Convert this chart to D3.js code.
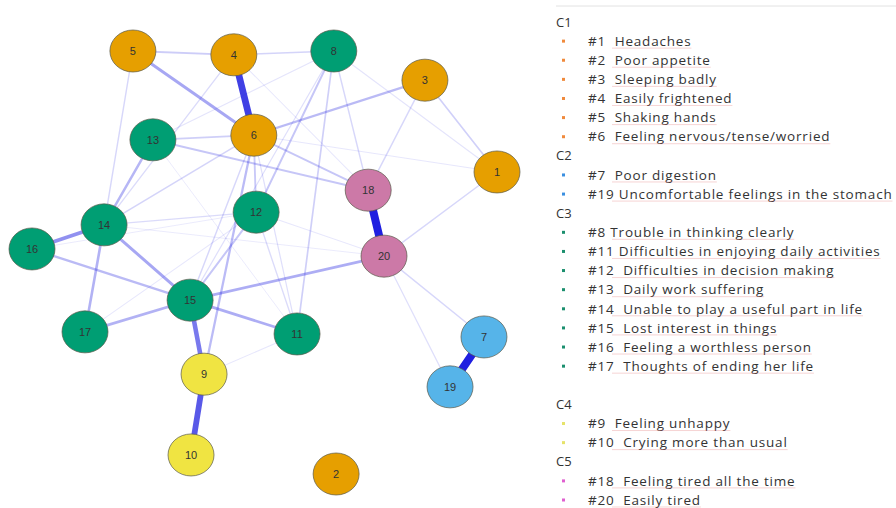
<!DOCTYPE html>
<html>
<head>
<meta charset="utf-8">
<script src="https://cdn.jsdelivr.net/npm/d3@7"></script>
<style>
  body { margin: 0; background: #fff; }
  svg { display: block; }
  .legend text { white-space: pre; }
</style>
</head>
<body>
<svg id="plot"></svg>
<script>
// node ids, community and layout position (layout units 0-100)
const nodeIds = [1, 2, 3, 4, 5, 6, 7, 8, 9, 10, 11, 12, 13, 14, 15, 16, 17, 18, 19, 20];
const nodeGroup = ["C1", "C1", "C1", "C1", "C1", "C1", "C2", "C3", "C4", "C4", "C3", "C3", "C3", "C3", "C3", "C3", "C3", "C5", "C2", "C5"];
const layoutX = [100, 65.4, 84.5, 43.4, 21.7, 47.7, 97.2, 64.9, 37.0, 34.2, 57.0, 48.2, 26.0, 15.5, 34.0, 0, 11.4, 72.3, 89.9, 75.7];
const layoutY = [28.6, 100, 6.9, 0.9, 0, 19.9, 67.6, 0, 76.4, 95.5, 66.9, 38.1, 21.0, 41.1, 58.9, 46.8, 66.4, 32.9, 79.4, 48.5];

// edges: from, to, weight
const edgeFrom = [18, 7, 4, 9, 15, 14, 5, 14, 15, 15, 15, 14, 13, 16, 3, 6, 6, 13, 8, 6, 12, 8, 5, 4, 5, 3, 1, 3, 20, 20, 8, 6, 6, 14, 4, 13, 6, 6, 12, 17, 9, 8, 1, 8, 12, 13, 16, 14, 4];
const edgeTo   = [20, 19, 6, 10, 9, 16, 6, 15, 11, 20, 17, 17, 14, 15, 6, 9, 18, 18, 12, 12, 15, 11, 4, 8, 14, 1, 20, 18, 7, 19, 18, 13, 14, 12, 14, 8, 15, 11, 11, 12, 11, 1, 6, 15, 20, 11, 12, 20, 18];
const edgeWeight = [1.0, 1.0, 0.88, 0.78, 0.65, 0.55, 0.45, 0.45, 0.42, 0.42, 0.4, 0.4, 0.38, 0.36, 0.36, 0.35, 0.3, 0.3, 0.3, 0.28, 0.3, 0.25, 0.26, 0.22, 0.2, 0.24, 0.2, 0.2, 0.2, 0.15, 0.2, 0.25, 0.22, 0.18, 0.18, 0.12, 0.2, 0.15, 0.18, 0.1, 0.1, 0.12, 0.1, 0.15, 0.1, 0.08, 0.08, 0.08, 0.1];

// legend rows
const legendLabels = [
    "C1",
    "#1  Headaches",
    "#2  Poor appetite",
    "#3  Sleeping badly",
    "#4  Easily frightened",
    "#5  Shaking hands",
    "#6  Feeling nervous/tense/worried",
    "C2",
    "#7  Poor digestion",
    "#19 Uncomfortable feelings in the stomach",
    "C3",
    "#8 Trouble in thinking clearly",
    "#11 Difficulties in enjoying daily activities",
    "#12  Difficulties in decision making",
    "#13  Daily work suffering",
    "#14  Unable to play a useful part in life",
    "#15  Lost interest in things",
    "#16  Feeling a worthless person",
    "#17  Thoughts of ending her life",
    "",
    "C4",
    "#9  Feeling unhappy",
    "#10  Crying more than usual",
    "C5",
    "#18  Feeling tired all the time",
    "#20  Easily tired"
];
const legendGroup = ["", "C1", "C1", "C1", "C1", "C1", "C1", "", "C2", "C2", "", "C3", "C3", "C3", "C3", "C3", "C3", "C3", "C3", "", "", "C4", "C4", "", "C5", "C5"];

const groups = ["C1", "C2", "C3", "C4", "C5"];
const color = d3.scaleOrdinal()
    .domain(groups)
    .range(["#E69F00", "#56B4E9", "#009E73", "#F0E442", "#CC79A7"]);
const bulletColor = d3.scaleOrdinal()
    .domain(groups)
    .range(["#f08a3c", "#3a8fe0", "#1b8f6e", "#e6e36a", "#e060d0"]);

const svg = d3.select("#plot")
    .attr("width", 896)
    .attr("height", 508);

const xScale = d3.scaleLinear().domain([0, 100]).range([32, 497]);
const yScale = d3.scaleLinear().domain([0, 100]).range([51, 474]);
const wScale = d3.scalePow().exponent(1.5).domain([0, 1]).range([0.8, 8]);
const oScale = d3.scalePow().exponent(1.3).domain([0, 1]).range([0.06, 1]);

const nodes = nodeIds.map((id, i) => ({
    id: id, group: nodeGroup[i], x: xScale(layoutX[i]), y: yScale(layoutY[i])
}));
const byId = new Map(nodes.map(d => [d.id, d]));
const edges = edgeFrom.map((f, i) => ({ s: byId.get(f), t: byId.get(edgeTo[i]), w: edgeWeight[i] }))
    .sort((a, b) => a.w - b.w);

// edges
svg.append("g")
    .selectAll("line")
    .data(edges)
    .enter().append("line")
    .attr("x1", d => d.s.x)
    .attr("y1", d => d.s.y)
    .attr("x2", d => d.t.x)
    .attr("y2", d => d.t.y)
    .attr("stroke", "#1f1fe0")
    .attr("stroke-opacity", d => oScale(d.w))
    .attr("stroke-width", d => wScale(d.w))
    .attr("stroke-linecap", "round");

// nodes
const node = svg.append("g")
    .selectAll("g")
    .data(nodes)
    .enter().append("g")
    .attr("transform", d => `translate(${d.x},${d.y})`);

node.append("ellipse")
    .attr("rx", 23)
    .attr("ry", 21)
    .attr("fill", d => color(d.group))
    .attr("stroke", "#5a5a4a")
    .attr("stroke-opacity", 0.7)
    .attr("stroke-width", 1);

node.append("text")
    .attr("text-anchor", "middle")
    .attr("dy", "0.35em")
    .style("font-family", "Liberation Sans, Arial, sans-serif")
    .style("font-size", "11px")
    .style("fill", "#333")
    .text(d => d.id);

// legend
const legendY = d3.scaleLinear().domain([0, 25]).range([22, 500]);
const legend = svg.append("g").attr("class", "legend");

legend.append("line")
    .attr("x1", 556).attr("x2", 896)
    .attr("y1", 6).attr("y2", 6)
    .attr("stroke", "#e2e2e2");

legendLabels.forEach(function (label, i) {
    if (label === "") return;
    const g = legendGroup[i];
    if (g === "") {
        legend.append("text")
            .attr("x", 556)
            .attr("y", legendY(i))
            .attr("dy", "0.35em")
            .style("font-family", "Open Sans, sans-serif")
            .style("font-size", "13px")
            .style("fill", "#333")
            .text(label);
    } else {
        legend.append("rect")
            .attr("x", 562)
            .attr("y", legendY(i) - 1.5)
            .attr("width", 3)
            .attr("height", 3)
            .attr("fill", bulletColor(g));
        const t = legend.append("text")
            .attr("x", 588)
            .attr("y", legendY(i))
            .attr("dy", "0.35em")
            .style("font-family", "Open Sans, sans-serif")
            .style("font-size", "13.5px")
            .style("letter-spacing", "0.8px")
            .style("fill", "#333")
            .text(label);
        // faint spell-check underline under the description
        const len = t.node().getComputedTextLength();
        legend.append("line")
            .attr("x1", 612).attr("x2", 588 + len)
            .attr("y1", legendY(i) + 7).attr("y2", legendY(i) + 7)
            .attr("stroke", "#e07070")
            .attr("stroke-opacity", 0.3)
            .attr("stroke-width", 1);
    }
});
</script>
</body>
</html>
